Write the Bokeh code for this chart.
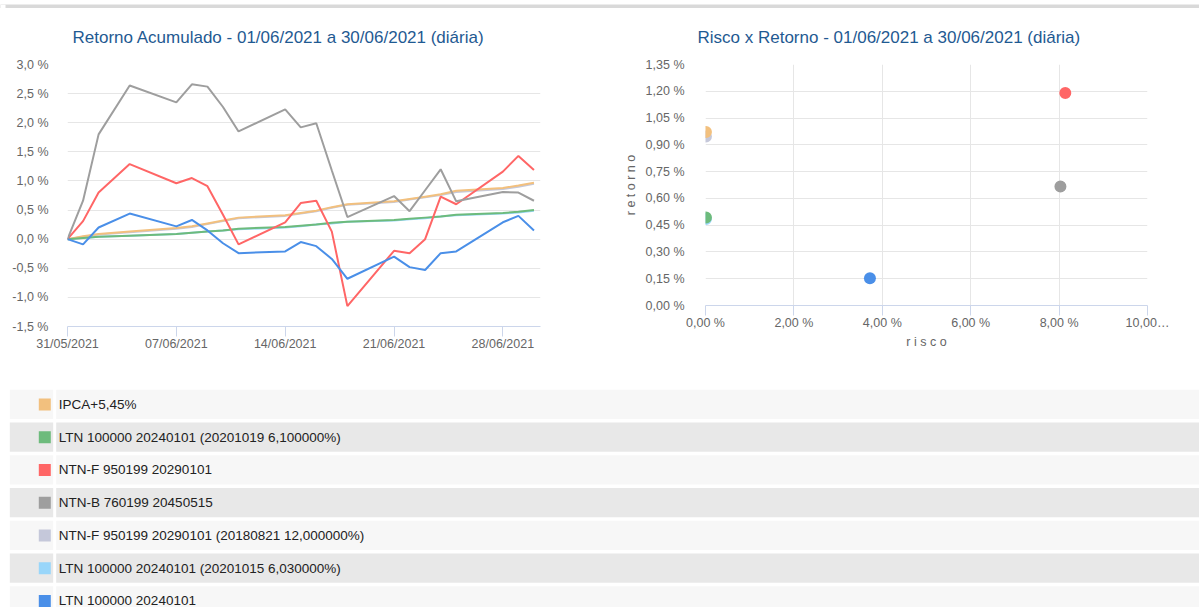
from datetime import timedelta
import pandas as pd
from bokeh.plotting import figure
from bokeh.models import Range1d, FixedTicker, ColumnDataSource, DatetimeTickFormatter
from bokeh.layouts import column, row
from bokeh.embed import file_html
from bokeh.resources import INLINE
from bokeh.core.properties import value

# ---------------- data ----------------
dates = ["2021-05-31", "2021-06-01", "2021-06-02", "2021-06-04", "2021-06-07", "2021-06-08",
         "2021-06-09", "2021-06-10", "2021-06-11", "2021-06-14", "2021-06-15", "2021-06-16",
         "2021-06-17", "2021-06-18", "2021-06-21", "2021-06-22", "2021-06-23", "2021-06-24",
         "2021-06-25", "2021-06-28", "2021-06-29", "2021-06-30"]

ipca = [0, 0.05, 0.09, 0.13, 0.19, 0.22, 0.27, 0.32, 0.37, 0.41, 0.45, 0.49, 0.55, 0.60,
        0.65, 0.69, 0.73, 0.77, 0.83, 0.88, 0.92, 0.97]
ltn_20201019 = [0, 0.02, 0.04, 0.06, 0.09, 0.11, 0.13, 0.15, 0.18, 0.21, 0.23, 0.25, 0.28, 0.30,
                0.33, 0.35, 0.37, 0.39, 0.42, 0.45, 0.47, 0.50]
ntnf = [0, 0.31, 0.80, 1.29, 0.96, 1.05, 0.91, 0.42, -0.09, 0.29, 0.62, 0.66, 0.13, -1.15,
        -0.20, -0.24, 0.00, 0.73, 0.60, 1.16, 1.43, 1.19]
ntnb = [0, 0.66, 1.80, 2.64, 2.35, 2.66, 2.62, 2.27, 1.85, 2.23, 1.92, 1.99, 1.18, 0.38,
        0.74, 0.48, 0.84, 1.20, 0.65, 0.81, 0.80, 0.66]
ntnf_20180821 = [0, 0.04, 0.08, 0.12, 0.18, 0.21, 0.26, 0.31, 0.36, 0.40, 0.44, 0.48, 0.54, 0.59,
                 0.64, 0.68, 0.72, 0.76, 0.81, 0.86, 0.90, 0.95]
ltn_20201015 = [0, 0.02, 0.04, 0.06, 0.09, 0.11, 0.13, 0.15, 0.17, 0.20, 0.22, 0.25, 0.27, 0.30,
                0.32, 0.34, 0.36, 0.39, 0.41, 0.44, 0.46, 0.49]
ltn = [0, -0.09, 0.20, 0.44, 0.22, 0.33, 0.15, -0.07, -0.24, -0.21, -0.05, -0.12, -0.34, -0.68,
       -0.30, -0.48, -0.53, -0.24, -0.21, 0.29, 0.40, 0.15]

names = ["IPCA+5,45%",
         "LTN 100000 20240101 (20201019 6,100000%)",
         "NTN-F 950199 20290101",
         "NTN-B 760199 20450515",
         "NTN-F 950199 20290101 (20180821 12,000000%)",
         "LTN 100000 20240101 (20201015 6,030000%)",
         "LTN 100000 20240101"]
colors = ["#f2c07e", "#6dbb7c", "#ff6666", "#9e9e9e", "#c5c8da", "#99d6fa", "#4a8fe8"]
series = [ipca, ltn_20201019, ntnf, ntnb, ntnf_20180821, ltn_20201015, ltn]

risco = [0.01, 0.01, 8.14, 8.03, 0.01, 0.01, 3.72]
retorno = [0.972, 0.493, 1.19, 0.667, 0.946, 0.485, 0.153]

y_ticks = [-1.5, -1.0, -0.5, 0.0, 0.5, 1.0, 1.5, 2.0, 2.5, 3.0]
y_tick_labels = ["-1,5 %", "-1,0 %", "-0,5 %", "0,0 %", "0,5 %", "1,0 %", "1,5 %", "2,0 %", "2,5 %", "3,0 %"]
x_tick_dates = ["2021-05-31", "2021-06-07", "2021-06-14", "2021-06-21", "2021-06-28"]

sc_y_ticks = [0.0, 0.15, 0.3, 0.45, 0.6, 0.75, 0.9, 1.05, 1.2, 1.35]
sc_y_labels = ["0,00 %", "0,15 %", "0,30 %", "0,45 %", "0,60 %", "0,75 %", "0,90 %", "1,05 %", "1,20 %", "1,35 %"]
sc_x_ticks = [0, 2, 4, 6, 8, 10]
sc_x_labels = ["0,00 %", "2,00 %", "4,00 %", "6,00 %", "8,00 %", "10,00…"]

title_left = "Retorno Acumulado - 01/06/2021 a 30/06/2021 (diária)"
title_right = "Risco x Retorno - 01/06/2021 a 30/06/2021 (diária)"

# ---------------- style ----------------
FONT = "Liberation Sans"
TITLE_COLOR = "#1f5a92"
LABEL_COLOR = "#666666"
GRID = "#e6e6e6"
AXIS = "#ccd6eb"

def style_title(p, shift):
    p.title.align = "left"
    p.title.offset = shift
    p.title.text_font = FONT
    p.title.text_font_size = "17px"
    p.title.text_font_style = "normal"
    p.title.text_color = TITLE_COLOR
    p.title.standoff = 35

def style_axes(p):
    for ax in p.axis:
        ax.major_label_text_font = FONT
        ax.major_label_text_font_size = "12.5px"
        ax.major_label_text_color = LABEL_COLOR
        ax.minor_tick_line_color = None
        ax.axis_label_text_font = FONT
        ax.axis_label_text_font_size = "12.5px"
        ax.axis_label_text_color = LABEL_COLOR
        ax.axis_label_text_font_style = "normal"
    p.yaxis.axis_line_color = None
    p.yaxis.major_tick_line_color = None
    p.yaxis.major_tick_out = 0
    p.yaxis.major_tick_in = 0
    p.xaxis.axis_line_color = AXIS
    p.xaxis.major_tick_line_color = AXIS
    p.xaxis.major_tick_out = 10
    p.xaxis.major_tick_in = 0
    p.xaxis.major_label_standoff = 0
    p.outline_line_color = None

# ---------------- top bar ----------------
bar = figure(width=1199, height=8, output_backend="svg", toolbar_location=None,
             x_range=Range1d(0, 1199), y_range=Range1d(0, 8),
             x_axis_location=None, y_axis_location=None, min_border=0)
bar.grid.visible = False
bar.outline_line_color = None
bar.background_fill_color = "#d9d9d9"
bar.border_fill_color = "#d9d9d9"
bar.quad(left=0, right=5, bottom=0, top=8, fill_color="white", line_color=None)

# ---------------- left: line chart ----------------
dt = pd.to_datetime(dates)
x0 = pd.Timestamp("2021-05-31")
left = figure(width=600, height=372, x_axis_type="datetime", output_backend="svg",
              toolbar_location=None,
              x_range=Range1d(x0, x0 + timedelta(days=30.42)),
              y_range=Range1d(-1.5, 3.0),
              min_border_left=67, min_border_right=60, min_border_top=56, min_border_bottom=54,
              title=title_left)
left.frame_align = False
style_title(left, 5)
order = [5, 4, 0, 1, 2, 3, 6]
for i in order:
    left.line(dt, series[i], color=colors[i], line_width=2)
style_axes(left)
left.yaxis.ticker = FixedTicker(ticks=y_ticks)
left.yaxis.major_label_overrides = dict(zip(y_ticks, y_tick_labels))
left.yaxis.major_label_standoff = 19
left.xaxis.ticker = FixedTicker(ticks=[pd.Timestamp(d).value / 1e6 for d in x_tick_dates])
left.xaxis.formatter = DatetimeTickFormatter(days="%d/%m/%Y", months="%d/%m/%Y")
left.xgrid.grid_line_color = None
left.ygrid.grid_line_color = GRID

# ---------------- right: scatter ----------------
right = figure(width=599, height=372, output_backend="svg", toolbar_location=None,
               x_range=Range1d(0, 10), y_range=Range1d(0, 1.35),
               min_border_left=105, min_border_right=52, min_border_top=56, min_border_bottom=75,
               title=title_right)
right.frame_align = False
style_title(right, -8)
src = ColumnDataSource(dict(x=[risco[i] for i in order], y=[retorno[i] for i in order],
                            c=[colors[i] for i in order]))
right.scatter("x", "y", source=src, size=12, fill_color="c", line_color=None)
style_axes(right)
right.yaxis.ticker = FixedTicker(ticks=sc_y_ticks)
right.yaxis.major_label_overrides = dict(zip(sc_y_ticks, sc_y_labels))
right.yaxis.major_label_standoff = 21
right.xaxis.ticker = FixedTicker(ticks=sc_x_ticks)
right.xaxis.major_label_overrides = dict(zip(sc_x_ticks, sc_x_labels))
right.xaxis.axis_label = "r i s c o"
right.yaxis.axis_label = "r e t o r n o"
right.xaxis.axis_label_standoff = 2
right.yaxis.axis_label_standoff = 5
right.xgrid.grid_line_color = GRID
right.ygrid.grid_line_color = GRID

# ---------------- legend table ----------------
leg = figure(width=1199, height=227, output_backend="svg", toolbar_location=None,
             x_range=Range1d(0, 1199), y_range=Range1d(227, 0),
             x_axis_location=None, y_axis_location=None, min_border=0)
leg.frame_align = False
leg.grid.visible = False
leg.outline_line_color = None
n = len(names)
tops = [9.3 + 32.75 * i for i in range(n)]
bottoms = [t + 29.3 for t in tops]
mids = [t + 14.65 for t in tops]
bgs = ["#f7f7f7" if i % 2 == 0 else "#e8e8e8" for i in range(n)]
lsrc = ColumnDataSource(dict(top=tops, bottom=bottoms, mid=mids, bg=bgs, name=names, color=colors))
leg.quad(left=9.3, right=52.7, top="top", bottom="bottom", fill_color="bg", line_color=None, source=lsrc)
leg.quad(left=55.7, right=1199, top="top", bottom="bottom", fill_color="bg", line_color=None, source=lsrc)
leg.rect(x=44.3, y="mid", width=12, height=12, fill_color="color", line_color=None, source=lsrc)
leg.text(x=58.3, y="mid", text="name", source=lsrc, text_font=value(FONT), text_font_size="13.5px",
         text_baseline="middle", text_color="#222222")

layout = column(bar, row(left, right), leg)
open("out.html", "w").write(file_html(layout, INLINE))
